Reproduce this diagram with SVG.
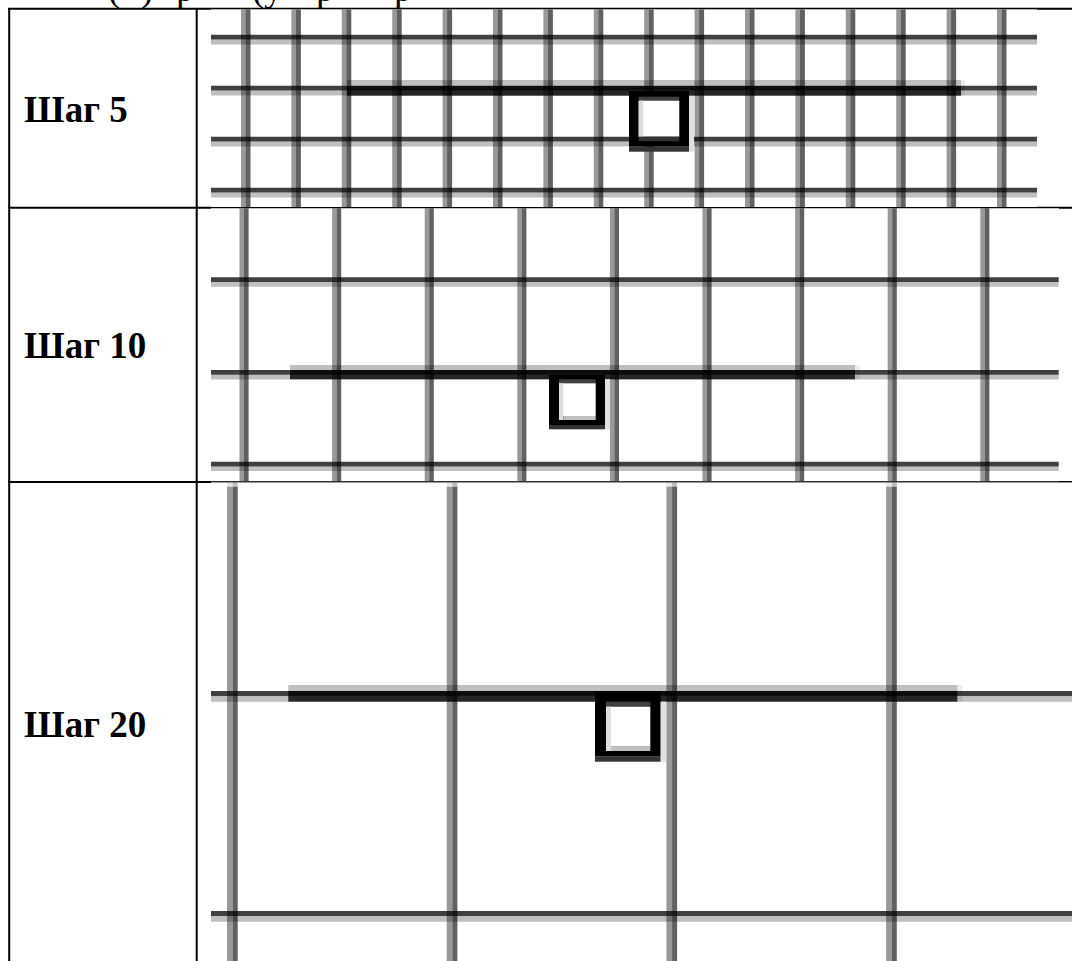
<svg xmlns="http://www.w3.org/2000/svg" width="1072" height="961" viewBox="0 0 1072 961">
<style>
.bg{fill:#fff}
.border{stroke:#000;stroke-width:2;fill:none}
.img{fill:#fff}
.vl{fill:#000;fill-opacity:.4}
.vd{fill:#000;fill-opacity:.62}
.hd{fill:#000;fill-opacity:.75}
.hl{fill:#000;fill-opacity:.25}
.cap1{fill:#000;fill-opacity:.09}
.cap2{fill:#000;fill-opacity:.25}
.tl{fill:#000;fill-opacity:.25}
.ts{fill:#000;fill-opacity:.8}
.te{fill:#000;fill-opacity:.07}
.label{font-family:"Liberation Serif","Times New Roman",serif;font-weight:bold;font-size:37px;fill:#000}
.body{font-family:"Liberation Serif","Times New Roman",serif;font-size:37px;fill:#000}
</style>
<rect class="bg" x="0" y="0" width="1072" height="961"/>
<text class="body" y="1"><tspan x="108">(</tspan><tspan x="141">)</tspan><tspan x="176">р</tspan><tspan x="252">(у</tspan><tspan x="316">р</tspan><tspan x="394">р</tspan></text>

<g id="table">
<path class="border" d="M8 8.7H1072M8 207.7H1072M8 482H1072M9.2 8V961M196.7 8V961"/>
</g>

<g id="row1">
<text class="label" x="24" y="121.7">Шаг 5</text>
<g id="grid1">
<rect class="img" x="211" y="9.4" width="826" height="197.6"/>
<path class="vl" d="M241 9.4h4.5v197.6h-4.5zM291.4 9.4h4.5v197.6h-4.5zM341.8 9.4h4.5v197.6h-4.5zM392.2 9.4h4.5v197.6h-4.5zM442.6 9.4h4.5v197.6h-4.5zM493 9.4h4.5v197.6h-4.5zM543.4 9.4h4.5v197.6h-4.5zM593.8 9.4h4.5v197.6h-4.5zM644.2 9.4h4.5v197.6h-4.5zM694.6 9.4h4.5v197.6h-4.5zM745 9.4h4.5v197.6h-4.5zM795.4 9.4h4.5v197.6h-4.5zM845.8 9.4h4.5v197.6h-4.5zM896.2 9.4h4.5v197.6h-4.5zM946.6 9.4h4.5v197.6h-4.5zM997 9.4h4.5v197.6h-4.5z"/>
<path class="vd" d="M245.5 9.4h5v197.6h-5zM295.9 9.4h5v197.6h-5zM346.3 9.4h5v197.6h-5zM396.7 9.4h5v197.6h-5zM447.1 9.4h5v197.6h-5zM497.5 9.4h5v197.6h-5zM547.9 9.4h5v197.6h-5zM598.3 9.4h5v197.6h-5zM648.7 9.4h5v197.6h-5zM699.1 9.4h5v197.6h-5zM749.5 9.4h5v197.6h-5zM799.9 9.4h5v197.6h-5zM850.3 9.4h5v197.6h-5zM900.7 9.4h5v197.6h-5zM951.1 9.4h5v197.6h-5zM1001.5 9.4h5v197.6h-5z"/>
<path class="hd" d="M211 34.7H1037v4.7H211zM211 85.8H1037v4.7H211zM211 136.7H1037v4.7H211zM211 187.7H1037v4.7H211z"/>
<path class="hl" d="M211 39.4H1037v5H211zM211 90.5H1037v5H211zM211 141.4H1037v5H211zM211 192.4H1037v5H211z"/>
<rect class="tl" x="347" y="80" width="614" height="6"/>
<rect class="ts" x="347" y="86" width="614" height="9.7"/>
<rect class="te" x="961" y="80" width="4" height="15.7"/>
<g id="sq1">
<rect x="629" y="91" width="60" height="55.7" fill="#000"/>
<rect x="629" y="146.7" width="60" height="5" fill="#333"/>
<rect x="689" y="96" width="5" height="55.7" fill="#e0e0e0"/>
<rect x="638.7" y="96.7" width="40.6" height="4" fill="#404040"/>
<rect x="638.7" y="100.7" width="40.6" height="36" fill="#fff"/>
<rect x="638.7" y="100.7" width="4.6" height="36" fill="#ddd"/>
<rect x="638.7" y="136.7" width="40.6" height="4.5" fill="#333"/>
</g>
</g>
</g>

<g id="row2">
<text class="label" x="24" y="358.3">Шаг 10</text>
<g id="grid2">
<rect class="img" x="211" y="208.3" width="848" height="272.9"/>
<path class="vl" d="M239.5 208.3h4.5v272.7h-4.5zM332.1 208.3h4.5v272.7h-4.5zM424.7 208.3h4.5v272.7h-4.5zM517.3 208.3h4.5v272.7h-4.5zM609.9 208.3h4.5v272.7h-4.5zM702.5 208.3h4.5v272.7h-4.5zM795.1 208.3h4.5v272.7h-4.5zM887.7 208.3h4.5v272.7h-4.5zM980.3 208.3h4.5v272.7h-4.5z"/>
<path class="vd" d="M244 208.3h4.6v272.7h-4.6zM336.6 208.3h4.6v272.7h-4.6zM429.2 208.3h4.6v272.7h-4.6zM521.8 208.3h4.6v272.7h-4.6zM614.4 208.3h4.6v272.7h-4.6zM707 208.3h4.6v272.7h-4.6zM799.6 208.3h4.6v272.7h-4.6zM892.2 208.3h4.6v272.7h-4.6zM984.8 208.3h4.6v272.7h-4.6z"/>
<path class="hd" d="M211 277.3H1058.7v4.7H211zM211 370H1058.7v4.7H211zM211 461.7H1058.7v4.7H211z"/>
<path class="hl" d="M211 282H1058.7v4.7H211zM211 374.7H1058.7v4.7H211zM211 466.4H1058.7v4.7H211z"/>
<rect class="tl" x="290" y="365" width="565" height="5"/>
<rect class="ts" x="290" y="370" width="565" height="9.3"/>
<rect class="te" x="855" y="365" width="5" height="14.3"/>
<g id="sq2">
<rect x="549" y="375" width="56" height="50" fill="#000"/>
<rect x="549" y="425" width="56" height="4.3" fill="#333"/>
<rect x="605" y="379.3" width="5" height="50" fill="#e0e0e0"/>
<rect x="559" y="379.3" width="36.7" height="4" fill="#404040"/>
<rect x="559" y="383.3" width="36.7" height="32.7" fill="#fff"/>
<rect x="559" y="383.3" width="4.3" height="36.7" fill="#e0e0e0"/>
<rect x="563.3" y="416" width="32.4" height="4" fill="#c0c0c0"/>
</g>
</g>
</g>

<g id="row3">
<text class="label" x="24" y="737.3">Шаг 20</text>
<g id="grid3">
<rect class="img" x="211" y="482.4" width="861" height="478.6"/>
<path class="cap1" d="M227 482.4h5.7v4.3h-5.7zM446.7 482.4h5.7v4.3h-5.7zM666.4 482.4h5.7v4.3h-5.7zM886.1 482.4h5.7v4.3h-5.7z"/>
<path class="cap2" d="M232.7 482.4h5v4.3h-5zM452.4 482.4h5v4.3h-5zM672.1 482.4h5v4.3h-5zM891.8 482.4h5v4.3h-5z"/>
<path class="vl" d="M227 486.7h5.7V961h-5.7zM446.7 486.7h5.7V961h-5.7zM666.4 486.7h5.7V961h-5.7zM886.1 486.7h5.7V961h-5.7z"/>
<path class="vd" d="M232.7 486.7h5V961h-5zM452.4 486.7h5V961h-5zM672.1 486.7h5V961h-5zM891.8 486.7h5V961h-5z"/>
<path class="hd" d="M211 691H1072v5H211zM211 911H1072v5H211z"/>
<path class="hl" d="M211 696H1072v5.7H211zM211 916H1072v5.7H211z"/>
<rect class="tl" x="288.3" y="685" width="669" height="6"/>
<rect class="ts" x="288.3" y="691" width="669" height="10.7"/>
<rect class="te" x="957.3" y="685" width="5" height="16.7"/>
<g id="sq3">
<rect x="595" y="691" width="65.7" height="65.7" fill="#000"/>
<rect x="595" y="756.7" width="65.7" height="5" fill="#333"/>
<rect x="660.7" y="701.7" width="5.3" height="60" fill="#e0e0e0"/>
<rect x="606" y="701.7" width="44.3" height="5" fill="#404040"/>
<rect x="606" y="706.7" width="44.3" height="40" fill="#fff"/>
<rect x="606" y="706.7" width="5" height="44.3" fill="#e0e0e0"/>
<rect x="611" y="746.7" width="39.3" height="4.3" fill="#c0c0c0"/>
</g>
</g>
</g>
</svg>
